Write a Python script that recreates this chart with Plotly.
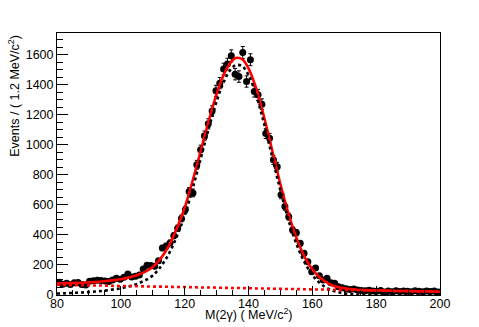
import plotly.graph_objects as go

# ---- data points (bin centres, 1.2 MeV bins) ----
bin_lo = 80.0
bin_w = 1.2
counts = [
    85, 72, 78, 70, 82, 83, 70, 66, 92, 95,
    98, 96, 93, 90, 100, 112, 105, 118, 140, 120,
    125, 133, 173, 198, 196, 192, 228, 313, 326, 347,
    395, 445, 510, 567, 689, 680, 867, 967, 1060, 1140,
    1225, 1360, 1411, 1505, 1538, 1593, 1471, 1455, 1615, 1422,
    1567, 1355, 1333, 1271, 1075, 1044, 900, 855, 667, 589,
    522, 433, 415, 344, 278, 222, 155, 180, 128, 100,
    111, 82, 78, 55, 49, 42, 36, 40, 33, 30,
    28, 32, 27, 25, 30, 20, 26, 22, 29, 24,
    27, 25, 22, 28, 25, 21, 26, 23, 27, 20,
]
mass = [round(bin_lo + bin_w * (i + 0.5), 2) for i in range(len(counts))]
errs = [c ** 0.5 for c in counts]

# ---- fit curves, read every 2 MeV ----
curve_m = list(range(80, 201, 2))
total_fit = [
    78, 78, 80, 81, 82, 84, 86, 90, 94, 99,
    105, 114, 125, 140, 159, 187, 231, 290, 369, 468,
    581, 723, 877, 1038, 1195, 1338, 1455, 1537, 1578, 1571,
    1510, 1402, 1257, 1089, 911, 738, 578, 441, 327, 238,
    171, 123, 90, 67, 53, 45, 39, 35, 33, 31,
    31, 30, 28, 27, 27, 26, 25, 24, 24, 23,
    22,
]
signal_fit = [
    10, 11, 13, 15, 17, 20, 23, 27, 32, 38,
    45, 54, 66, 82, 102, 130, 175, 235, 315, 415,
    528, 671, 826, 988, 1145, 1289, 1407, 1490, 1531, 1525,
    1465, 1358, 1213, 1046, 869, 697, 538, 401, 288, 200,
    134, 86, 54, 32, 19, 11, 6, 3, 2, 1,
    1, 1, 0, 0, 0, 0, 0, 0, 0, 0,
    0,
]
bkg_fit = [
    68, 67, 66, 66, 65, 64, 63, 63, 62, 61,
    60, 60, 59, 58, 57, 56, 56, 55, 54, 53,
    53, 52, 51, 50, 50, 49, 48, 47, 47, 46,
    45, 44, 43, 43, 42, 41, 40, 40, 39, 38,
    37, 37, 36, 35, 34, 33, 33, 32, 31, 30,
    30, 29, 28, 27, 27, 26, 25, 24, 24, 23,
    22,
]

fig = go.Figure()

fig.add_trace(go.Scatter(
    x=mass, y=counts, mode="markers",
    marker=dict(color="black", size=7),
    error_y=dict(type="data", array=errs, color="black", thickness=1, width=2),
    showlegend=False,
))
fig.add_trace(go.Scatter(
    x=curve_m, y=total_fit, mode="lines",
    line=dict(color="#ff0000", width=2.6, shape="spline"),
    showlegend=False,
))
fig.add_trace(go.Scatter(
    x=curve_m, y=signal_fit, mode="lines",
    line=dict(color="black", width=2.6, dash="dot", shape="spline"),
    showlegend=False,
))
fig.add_trace(go.Scatter(
    x=curve_m, y=bkg_fit, mode="lines",
    line=dict(color="#ff0000", width=2.6, dash="dot", shape="spline"),
    showlegend=False,
))

font = "Liberation Sans, Arial, Helvetica, sans-serif"

fig.update_layout(
    width=479, height=327,
    margin=dict(l=57, r=39, t=33, b=32),
    paper_bgcolor="white", plot_bgcolor="white",
    font=dict(family=font, size=12, color="black"),
    xaxis=dict(
        range=[80, 200], tickvals=[80, 100, 120, 140, 160, 180, 200],
        ticks="inside", ticklen=9, tickcolor="black",
        minor=dict(dtick=5, ticks="inside", ticklen=5, tickcolor="black"),
        showline=True, linecolor="black", mirror=True,
        showgrid=False, zeroline=False,
        tickfont=dict(size=12.5), ticklabelstandoff=-3,
    ),
    yaxis=dict(
        range=[0, 1745], tickvals=[0, 200, 400, 600, 800, 1000, 1200, 1400, 1600],
        ticks="inside", ticklen=11, tickcolor="black",
        minor=dict(dtick=50, ticks="inside", ticklen=6, tickcolor="black"),
        showline=True, linecolor="black", mirror=True,
        showgrid=False, zeroline=False,
        tickfont=dict(size=12.5),
    ),
    annotations=[
        dict(text="Events / ( 1.2 MeV/c<sup>2</sup>)", textangle=-90,
             xref="paper", yref="paper", x=-0.113, y=1.0,
             xanchor="center", yanchor="top", showarrow=False,
             font=dict(size=12.5)),
        dict(text="M(2γ) ( MeV/c<sup>2</sup>)",
             xref="paper", yref="paper", x=0.5, y=-0.073,
             xanchor="center", yanchor="middle", showarrow=False,
             font=dict(size=12.5)),
    ],
)

# page body has an 8px default margin; drop it so the figure sits at (0,0)
fig.write_html("out.html", config={"displayModeBar": False},
               post_script="document.body.style.margin='0';")
